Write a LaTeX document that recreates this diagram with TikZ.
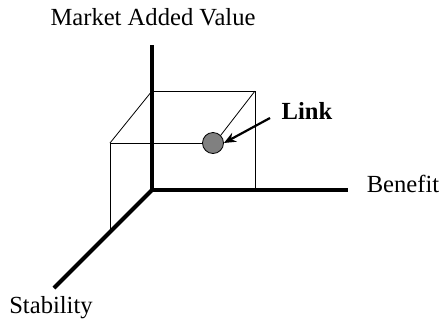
\documentclass[tikz,border=0pt]{standalone}
\usepackage{fontspec}
\setmainfont{Liberation Serif}
\usetikzlibrary{arrows.meta}
\begin{document}
\begin{tikzpicture}[x=1pt,y=-1pt,
  axis/.style={line width=4.2pt},
  edge/.style={line width=0.8pt},
  lbl/.style={font=\fontsize{24.6}{28}\selectfont, inner sep=0pt},
  pointer/.style={line width=2.2pt,-{Stealth[length=12pt,width=10pt]}}]
  \useasboundingbox (0,0) rectangle (439,325);
  % axes
  \coordinate (O) at (152,190);
  \coordinate (ytop) at (152,45);
  \coordinate (xend) at (348,190);
  \coordinate (zend) at (54,288);
  % box corners
  \coordinate (bt) at (152,91);
  \coordinate (rt) at (255,91);
  \coordinate (rb) at (255,190);
  \coordinate (ft) at (110,143);
  \coordinate (fb) at (110,229);
  \node[circle, draw=black, line width=0.8pt, fill=black!50, minimum size=21pt, inner sep=0pt] (link) at (213,143) {};
  \draw[edge] (bt) -- (rt) -- (rb);
  \draw[edge] (ft) -- (bt);
  \draw[edge] (ft) -- (link.west);
  \draw[edge] (link.north east) -- (rt);
  \draw[edge] (ft) -- (fb);
  \draw[axis] (ytop) -- (O) -- (xend);
  \draw[axis] (O) -- (zend);
  % labels
  \node[lbl] (mav) at (153,17) {Market Added Value};
  \node[lbl] (ben) at (403,184) {Benefit};
  \node[lbl] (stab) at (51,308) {Stability};
  \node[lbl, font=\fontsize{24.6}{28}\selectfont\bfseries] (lk) at (307,111) {Link};
  \coordinate (tail) at (270,118);
  \draw[pointer] (tail) -- (link.east);
\end{tikzpicture}
\end{document}
